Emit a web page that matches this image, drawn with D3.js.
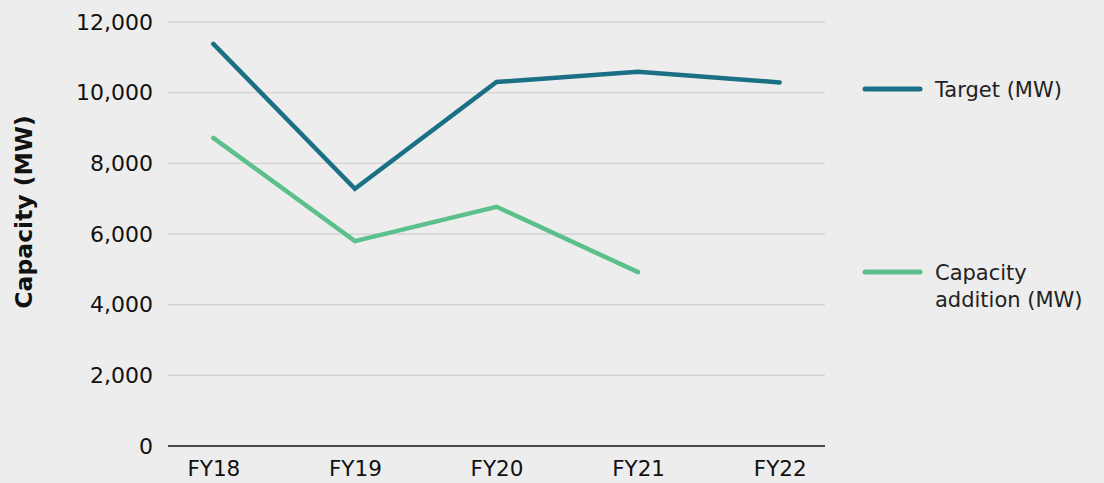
<!DOCTYPE html>
<html><head><meta charset="utf-8">
<script src="https://cdn.jsdelivr.net/npm/d3@7"></script>
<style>
html,body{margin:0;padding:0;background:#ededed;}
svg{display:block;font-family:"DejaVu Sans",sans-serif;}
</style></head><body>
<svg id="chart" width="1104" height="483"></svg>
<script>
const categories = ["FY18","FY19","FY20","FY21","FY22"];
const targetValues = [11380, 7280, 10300, 10590, 10290];
const additionValues = [8720, 5800, 6770, 4920, null];
const yTicks = [0, 2000, 4000, 6000, 8000, 10000, 12000];
const seriesNames = ["Target (MW)", "Capacity addition (MW)"];
const seriesColors = ["#1c7085", "#5cc08d"];

(function(){
const svg = d3.select("#chart");
const FONT = "'DejaVu Sans',sans-serif";
const mLeft = 168, mRight = 825, mTop = 22, mBottom = 446;
const x = d3.scalePoint().domain(categories).range([mLeft, mRight]).padding(0.32);
const y = d3.scaleLinear().domain([0, 12000]).range([mBottom, mTop]);

// gridlines
svg.append("g").selectAll("line").data(yTicks.filter(d => d > 0)).join("line")
  .attr("x1", mLeft).attr("x2", mRight)
  .attr("y1", d => y(d)).attr("y2", d => y(d))
  .attr("stroke", "#d2d2d2").attr("stroke-width", 1.3);

// y axis labels
const yAxis = d3.axisLeft(y).tickValues(yTicks).tickSize(0).tickPadding(15)
  .tickFormat(d3.format(","));
const gy = svg.append("g").attr("transform", `translate(${mLeft},0)`).call(yAxis);
gy.select(".domain").remove();
gy.selectAll("text").attr("font-size", 22).attr("fill", "#111").attr("font-family", FONT);

// x axis
const xAxis = d3.axisBottom(x).tickSize(0).tickPadding(15);
const gx = svg.append("g").attr("transform", `translate(0,${mBottom})`).call(xAxis);
gx.select(".domain").attr("d", `M${mLeft},0H${mRight}`).attr("stroke", "#111").attr("stroke-width", 1.6);
gx.selectAll("text").attr("font-size", 21.5).attr("fill", "#111").attr("font-family", FONT);

// axis title
svg.append("text")
  .attr("transform", `translate(32,212) rotate(-90)`)
  .attr("text-anchor", "middle")
  .attr("font-size", 23.5).attr("font-weight", "bold").attr("fill", "#111")
  .text("Capacity (MW)");

// lines
const line = d3.line().defined(d => d.v != null).x(d => x(d.c)).y(d => y(d.v));
[targetValues, additionValues].forEach((vals, i) => {
  svg.append("path")
    .datum(categories.map((c, j) => ({c, v: vals[j]})))
    .attr("d", line).attr("fill", "none")
    .attr("stroke", seriesColors[i]).attr("stroke-width", 4.5)
    .attr("stroke-linecap", "round").attr("stroke-linejoin", "miter");
});

// legend
const legendY = [89, 272];
const legendLines = [["Target (MW)"], ["Capacity", "addition (MW)"]];
legendY.forEach((ly, i) => {
  svg.append("line").attr("x1", 865).attr("x2", 920).attr("y1", ly).attr("y2", ly)
    .attr("stroke", seriesColors[i]).attr("stroke-width", 5).attr("stroke-linecap", "round");
  const t = svg.append("text").attr("x", 935).attr("y", ly + 8)
    .attr("font-size", 21).attr("fill", "#222");
  legendLines[i].forEach((s, k) => {
    t.append("tspan").attr("x", 935).attr("dy", k === 0 ? 0 : 27).text(s);
  });
});
})();
</script>
</body></html>
